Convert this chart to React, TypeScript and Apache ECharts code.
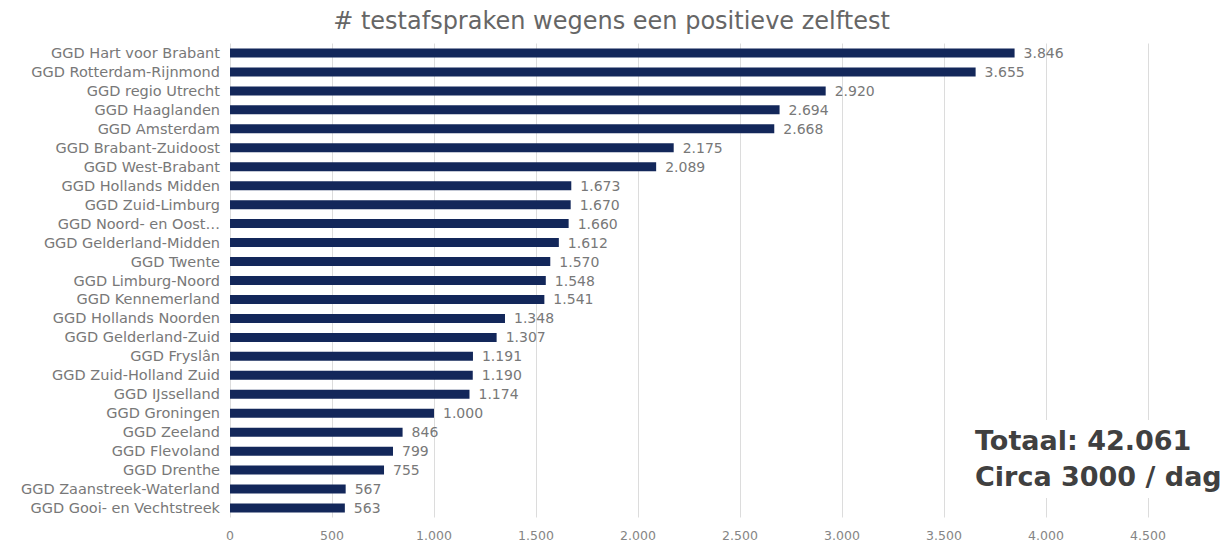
import React, { useEffect, useRef } from "react";
import * as echarts from "echarts";

const categories = [
  "GGD Hart voor Brabant",
  "GGD Rotterdam-Rijnmond",
  "GGD regio Utrecht",
  "GGD Haaglanden",
  "GGD Amsterdam",
  "GGD Brabant-Zuidoost",
  "GGD West-Brabant",
  "GGD Hollands Midden",
  "GGD Zuid-Limburg",
  "GGD Noord- en Oost…",
  "GGD Gelderland-Midden",
  "GGD Twente",
  "GGD Limburg-Noord",
  "GGD Kennemerland",
  "GGD Hollands Noorden",
  "GGD Gelderland-Zuid",
  "GGD Fryslân",
  "GGD Zuid-Holland Zuid",
  "GGD IJsselland",
  "GGD Groningen",
  "GGD Zeeland",
  "GGD Flevoland",
  "GGD Drenthe",
  "GGD Zaanstreek-Waterland",
  "GGD Gooi- en Vechtstreek",
];

const values = [
  3846, 3655, 2920, 2694, 2668, 2175, 2089, 1673, 1670, 1660, 1612, 1570, 1548,
  1541, 1348, 1307, 1191, 1190, 1174, 1000, 846, 799, 755, 567, 563,
];

const titleText = "# testafspraken wegens een positieve zelftest";
const totalLines = ["Totaal: 42.061", "Circa 3000 / dag"];

const fmt = (v: number) =>
  String(Math.round(v)).replace(/\B(?=(\d{3})+(?!\d))/g, ".");

export default function App() {
  const ref = useRef<HTMLDivElement>(null);
  useEffect(() => {
    if (!ref.current) return;
    const chart = echarts.init(ref.current, undefined, { renderer: "svg" });
    const font = "DejaVu Sans";
    chart.setOption({
      animation: false,
      backgroundColor: "#ffffff",
      title: {
        text: titleText,
        left: "center",
        top: 4,
        textStyle: {
          fontFamily: font,
          fontSize: 24,
          fontWeight: "normal",
          color: "#666666",
        },
      },
      grid: { left: 230, right: 75, top: 43.5, bottom: 29.5, containLabel: false },
      xAxis: {
        type: "value",
        min: 0,
        max: 4500,
        interval: 500,
        axisLine: { show: false },
        axisTick: { show: false },
        splitLine: { show: true, lineStyle: { color: "#dcdcdc", width: 1 } },
        axisLabel: {
          fontFamily: font,
          fontSize: 12.5,
          color: "#858585",
          margin: 11,
          formatter: (v: number) => fmt(v),
        },
      },
      yAxis: {
        type: "category",
        inverse: true,
        data: categories,
        axisLine: { show: false },
        axisTick: { show: false },
        axisLabel: {
          interval: 0,
          fontFamily: font,
          fontSize: 14.5,
          color: "#787878",
          margin: 10,
        },
      },
      series: [
        {
          type: "bar",
          data: values,
          barWidth: 9,
          itemStyle: { color: "#13275a" },
          label: {
            show: true,
            position: "right",
            distance: 9,
            fontFamily: font,
            fontSize: 14,
            color: "#787878",
            formatter: (p: any) => fmt(p.value),
          },
        },
      ],
      graphic: [
        {
          type: "rect",
          left: 965,
          top: 420,
          shape: { width: 258, height: 78 },
          style: { fill: "#ffffff" },
          z: 10,
        },
        {
          type: "text",
          z: 11,
          style: {
            x: 975,
            y: 440,
            verticalAlign: "middle",
            text: totalLines[0],
            fontFamily: font,
            fontSize: 27,
            fontWeight: "bold",
            fill: "#404040",
          },
        },
        {
          type: "text",
          z: 11,
          style: {
            x: 975,
            y: 476,
            verticalAlign: "middle",
            text: totalLines[1],
            fontFamily: font,
            fontSize: 27,
            fontWeight: "bold",
            fill: "#404040",
          },
        },
      ],
    });
    return () => chart.dispose();
  }, []);
  return (
    <div
      ref={ref}
      style={{ position: "fixed", left: 0, top: 0, width: 1223, height: 547 }}
    />
  );
}
